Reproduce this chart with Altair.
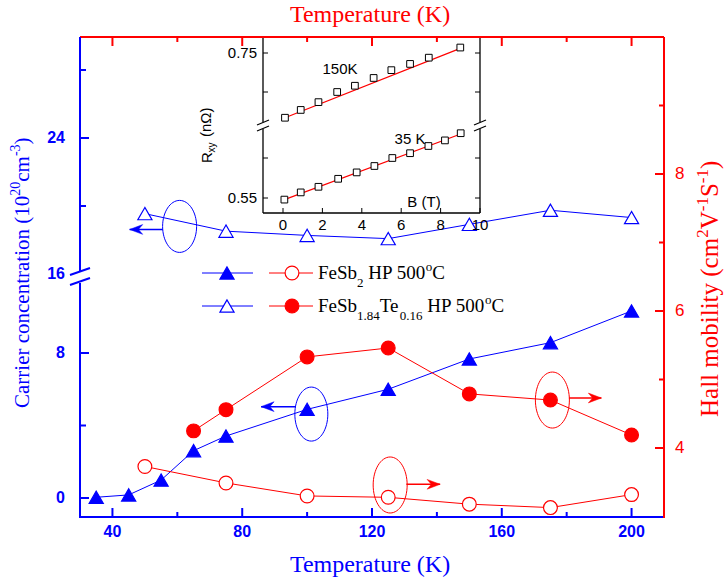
import altair as alt
import pandas as pd

BLUE = "#0000ff"
RED = "#ff0000"
SERIF = "Liberation Serif"
SANS = "Liberation Sans"
W, H = 584, 480

# ---------------- main data ----------------
T_fesb2 = [35, 45, 55, 65, 75, 100, 125, 150, 175, 200]
n_fesb2 = [0.04, 0.17, 0.99, 2.61, 3.42, 4.89, 6.0, 7.67, 8.57, 10.32]
T_te = [50, 75, 100, 125, 150, 175, 200]
n_te = [19.55, 18.52, 18.27, 18.08, 18.92, 19.75, 19.32]
T_mu_te = [65, 75, 100, 125, 150, 175, 200]
mu_te = [4.25, 4.56, 5.33, 5.46, 4.79, 4.70, 4.19]
T_mu_fesb2 = [50, 75, 100, 125, 150, 175, 200]
mu_fesb2 = [3.73, 3.49, 3.30, 3.28, 3.18, 3.13, 3.32]

# ---------------- inset data ----------------
B_150 = [0.1, 0.9, 1.8, 2.75, 3.65, 4.6, 5.5, 6.45, 7.4, 9.0]
R_150 = [0.667, 0.677, 0.687, 0.700, 0.708, 0.718, 0.728, 0.736, 0.744, 0.757]
B_35 = [0.07, 0.9, 1.8, 2.8, 3.74, 4.64, 5.55, 6.45, 7.38, 8.22, 9.02]
R_35 = [0.548, 0.557, 0.564, 0.574, 0.582, 0.590, 0.600, 0.606, 0.615, 0.622, 0.631]
fit150_B = [0.1, 9.0]
fit150_R = [0.667, 0.756]
fit35_B = [0.07, 9.02]
fit35_R = [0.548, 0.630]

# ---------------- axis ticks ----------------
x_major = [40, 80, 120, 160, 200]
x_minor = [60, 100, 140, 180]
x_labels = ["40", "80", "120", "160", "200"]
lo_major = [0, 8]
lo_minor = [4]
lo_labels = ["0", "8"]
hi_major = [16, 24]
hi_tick_major = [24]
hi_minor = [20, 28]
hi_labels = ["16", "24"]
mu_major = [4, 6, 8]
mu_minor = [5, 7, 9]
mu_labels = ["4", "6", "8"]
B_ticks = [0, 2, 4, 6, 8, 10]
B_labels = ["0", "2", "4", "6", "8", "10"]
Rhi_ticks = [0.70, 0.75]
Rlo_ticks = [0.55, 0.60]

# annotation ellipses / arrows (data coordinates)
ell_hi_T, ell_hi_v = [60.7], [18.8]
ell_lo_T, ell_lo_v = [101.3], [4.63]
ell_mu_T, ell_mu_v = [125.6, 175.6], [3.46, 4.70]
arr_hi = dict(x0=[55.5], x1=[45.3], y=[18.62])
arr_lo = dict(x0=[96.5], x1=[85.8], y=[5.04])
arr_mu = dict(x0=[130.6, 180.7], x1=[141.0, 190.7], y=[3.47, 4.73])

sx = alt.Scale(domain=[30, 210], range=[0, W], nice=False, zero=False)
s_lo = alt.Scale(domain=[0, 8], range=[461, 316], nice=False, zero=False)
s_hi = alt.Scale(domain=[16, 24], range=[237, 101], nice=False, zero=False)
s_mu = alt.Scale(domain=[4, 8], range=[411, 137], nice=False, zero=False)
s_bx = alt.Scale(domain=[0, 10], range=[203, 400], nice=False, zero=False)
s_rhi = alt.Scale(domain=[0.70, 0.75], range=[55, 16], nice=False, zero=False)
s_rlo = alt.Scale(domain=[0.55, 0.60], range=[161, 121], nice=False, zero=False)

one = pd.DataFrame({"k": [0]})
layers = []


def X(f, s):
    return alt.X(f, type="quantitative", scale=s, axis=None)


def Y(f, s):
    return alt.Y(f, type="quantitative", scale=s, axis=None)


def line(xv, yv, xs, ys, color, w=1):
    d = pd.DataFrame({"x": xv, "y": yv})
    return alt.Chart(d).mark_line(color=color, strokeWidth=w).encode(x=X("x", xs), y=Y("y", ys))


def pts(xv, yv, xs, ys, shape, size, fill, stroke, sw=1.2):
    d = pd.DataFrame({"x": xv, "y": yv})
    return alt.Chart(d).mark_point(shape=shape, size=size, filled=True, fill=fill, stroke=stroke,
                                   strokeWidth=sw, opacity=1).encode(x=X("x", xs), y=Y("y", ys))


def seg(x1, y1, x2, y2, color, w):
    return alt.Chart(one).mark_rule(color=color, strokeWidth=w).encode(
        x=alt.value(x1), y=alt.value(y1), x2=alt.value(x2), y2=alt.value(y2))


def vticks(vals, ys, x0, x1, color, w=2):
    d = pd.DataFrame({"v": vals})
    return alt.Chart(d).mark_rule(color=color, strokeWidth=w).encode(
        y=Y("v", ys), x=alt.value(x0), x2=alt.value(x1))


def hticks(vals, xs, y0, y1, color, w=2):
    d = pd.DataFrame({"v": vals})
    return alt.Chart(d).mark_rule(color=color, strokeWidth=w).encode(
        x=X("v", xs), y=alt.value(y0), y2=alt.value(y1))


def vlabels(vals, labs, ys, x, align, color, size, weight="normal"):
    d = pd.DataFrame({"v": vals, "t": labs})
    return alt.Chart(d).mark_text(align=align, baseline="middle", color=color, fontSize=size,
                                  fontWeight=weight, font=SANS).encode(
        y=Y("v", ys), x=alt.value(x), text="t:N")


def hlabels(vals, labs, xs, y, color, size, weight="normal"):
    d = pd.DataFrame({"v": vals, "t": labs})
    return alt.Chart(d).mark_text(align="center", baseline="middle", color=color, fontSize=size,
                                  fontWeight=weight, font=SANS).encode(
        x=X("v", xs), y=alt.value(y), text="t:N")


def txt(s, x, y, size, color="black", font=SERIF, align="left", baseline="alphabetic", angle=0,
        weight="normal"):
    props = dict(text=s, fontSize=size, color=color, font=font, align=align, baseline=baseline,
                 fontWeight=weight)
    if angle:
        props["angle"] = angle
    return alt.Chart(one).mark_text(**props).encode(x=alt.value(x), y=alt.value(y))


TW = {'C': .667, 'a': .444, 'r': .333, 'i': .278, 'e': .444, ' ': .25, 'c': .444, 'o': .5,
      'n': .5, 't': .278, '(': .333, ')': .333, 'm': .778, '-': .333, 'H': .722, 'l': .278,
      'b': .5, 'y': .5, 'V': .722, 'S': .556, 'F': .556, 'P': .556, 'T': .611, '.': .25,
      'K': .722, 'u': .5, 'p': .5}


def tw(s, size):
    return sum(TW.get(c, 0.5) for c in s) * size


def rich(pieces, x, y, size, small, color, angle=0):
    out = []
    pos = 0.0
    for s, kind in pieces:
        fs = size if kind == "n" else small
        off = 0.0 if kind == "n" else (0.42 * size if kind == "sub" else -0.42 * size)
        lead = len(s) - len(s.lstrip(" "))
        pos += lead * TW[" "] * fs
        s = s.lstrip(" ")
        if angle == 0:
            px, py = x + pos, y + off
        else:
            px, py = x + off, y - pos
        out.append(txt(s, px, py, fs, color, angle=angle))
        pos += tw(s, fs)
    return out


# ---------------- data series ----------------
layers.append(line(T_te, n_te, sx, s_hi, BLUE))
layers.append(line(T_fesb2, n_fesb2, sx, s_lo, BLUE))
layers.append(line(T_mu_te, mu_te, sx, s_mu, RED))
layers.append(line(T_mu_fesb2, mu_fesb2, sx, s_mu, RED))
layers.append(pts(T_te, n_te, sx, s_hi, "triangle-up", 200, "white", BLUE))
layers.append(pts(T_fesb2, n_fesb2, sx, s_lo, "triangle-up", 200, BLUE, BLUE))
layers.append(pts(T_mu_te, mu_te, sx, s_mu, "circle", 190, RED, RED))
layers.append(pts(T_mu_fesb2, mu_fesb2, sx, s_mu, "circle", 190, "white", RED))

# ---------------- annotations ----------------
def ellipse_path(w, h):
    a = w / h
    return f"M {-a},0 A {a},1 0 1,1 {a},0 A {a},1 0 1,1 {-a},0 Z"


def ell(Tv, vv, ys, color, w, h):
    d = pd.DataFrame({"x": Tv, "y": vv})
    return alt.Chart(d).mark_point(shape=ellipse_path(w, h), size=h * h, filled=False,
                                   stroke=color, strokeWidth=1, opacity=1).encode(
        x=X("x", sx), y=Y("y", ys))


ARROW_L = "M 0,0 L 2,-0.75 L 1.35,0 L 2,0.75 Z"
ARROW_R = "M 0,0 L -2,-0.75 L -1.35,0 L -2,0.75 Z"


def arrow(a, ys, color, head):
    d = pd.DataFrame(a)
    body = alt.Chart(d).mark_rule(color=color, strokeWidth=1.5).encode(
        x=X("x0", sx), x2=alt.X2("x1"), y=Y("y", ys))
    tip = alt.Chart(d).mark_point(shape=head, size=170, filled=True, fill=color, stroke=color,
                                  strokeWidth=0.5, opacity=1).encode(x=X("x1", sx), y=Y("y", ys))
    return [body, tip]


layers.append(ell(ell_hi_T, ell_hi_v, s_hi, BLUE, 34, 52))
layers.append(ell(ell_lo_T, ell_lo_v, s_lo, BLUE, 33, 54))
layers.append(ell(ell_mu_T, ell_mu_v, s_mu, RED, 34, 56))
layers += arrow(arr_hi, s_hi, BLUE, ARROW_L)
layers += arrow(arr_lo, s_lo, BLUE, ARROW_L)
layers += arrow(arr_mu, s_mu, RED, ARROW_R)

# ---------------- inset ----------------
layers.append(line(fit150_B, fit150_R, s_bx, s_rhi, RED, 1.2))
layers.append(line(fit35_B, fit35_R, s_bx, s_rlo, RED, 1.2))
layers.append(pts(B_150, R_150, s_bx, s_rhi, "square", 45, "white", "black", 1))
layers.append(pts(B_35, R_35, s_bx, s_rlo, "square", 45, "white", "black", 1))
IL, IR, IB = 183, 400, 176
layers.append(seg(IL, 0, IL, 85, "black", 1.3))
layers.append(seg(IL, 92, IL, IB, "black", 1.3))
layers.append(seg(IR, 0, IR, 85, "black", 1.3))
layers.append(seg(IR, 92, IR, IB, "black", 1.3))
layers.append(seg(IL, IB, IR, IB, "black", 1.3))
for bx in (IL, IR):
    layers.append(seg(bx - 6, 88, bx + 6, 83, "black", 1.2))
    layers.append(seg(bx - 6, 94, bx + 6, 89, "black", 1.2))
layers.append(hticks(B_ticks, s_bx, IB, IB - 5, "black", 1))
layers.append(vticks(Rhi_ticks, s_rhi, IL, IL + 5, "black", 1))
layers.append(vticks(Rlo_ticks, s_rlo, IL, IL + 5, "black", 1))
layers.append(vticks(Rhi_ticks, s_rhi, IR, IR - 5, "black", 1))
layers.append(vticks(Rlo_ticks, s_rlo, IR, IR - 5, "black", 1))
layers.append(hlabels(B_ticks, B_labels, s_bx, 188, "black", 15))
layers.append(vlabels([0.75], ["0.75"], s_rhi, 177, "right", "black", 15))
layers.append(vlabels([0.55], ["0.55"], s_rlo, 177, "right", "black", 15))
layers.append(txt("150K", 260, 32, 15, font=SANS, align="center", baseline="middle"))
layers.append(txt("35 K", 330, 102, 15, font=SANS, align="center", baseline="middle"))
layers.append(txt("B (T)", 344, 165, 15, font=SANS, align="center", baseline="middle"))
layers.append(txt("R", 127, 126, 15, font=SANS, angle=270, baseline="middle"))
layers.append(txt("xy", 132, 115.5, 10, font=SANS, angle=270, baseline="middle"))
layers.append(txt("(nΩ)", 126, 100, 15, font=SANS, angle=270, baseline="middle"))

# ---------------- legend ----------------
for ry, tri_fill, circ_fill in ((236, BLUE, "white"), (269, "white", RED)):
    layers.append(seg(122, ry, 173, ry, BLUE, 1))
    layers.append(seg(189, ry, 233, ry, RED, 1))
    layers.append(alt.Chart(one).mark_point(shape="triangle-up", size=200, filled=True, fill=tri_fill,
                                            stroke=BLUE, strokeWidth=1.2, opacity=1).encode(
        x=alt.value(147), y=alt.value(ry)))
    layers.append(alt.Chart(one).mark_point(shape="circle", size=190, filled=True, fill=circ_fill,
                                            stroke=RED, strokeWidth=1.2, opacity=1).encode(
        x=alt.value(212), y=alt.value(ry)))
layers += rich([("FeSb", "n"), ("2", "sub"), (" HP 500", "n"), ("o", "sup"), ("C", "n")],
               238, 242, 19, 13, "black")
layers += rich([("FeSb", "n"), ("1.84", "sub"), ("Te", "n"), ("0.16", "sub"), (" HP 500", "n"),
                ("o", "sup"), ("C", "n")], 238, 275, 19, 13, "black")

# ---------------- main axes ----------------
layers.append(seg(0, 480, W, 480, BLUE, 2))          # bottom
layers.append(seg(0, 0, W, 0, RED, 2))               # top
layers.append(seg(W, 0, W, 481, RED, 2))             # right
layers.append(seg(0, 0, 0, 234, BLUE, 2))            # left upper
layers.append(seg(0, 246, 0, 481, BLUE, 2))          # left lower
layers.append(seg(-10, 238, 10, 231, BLUE, 2))
layers.append(seg(-10, 248, 10, 241, BLUE, 2))
layers.append(hticks(x_major, sx, 480, 471, BLUE))
layers.append(hticks(x_minor, sx, 480, 475, BLUE))
layers.append(hticks(x_major, sx, 0, 9, RED))
layers.append(hticks(x_minor, sx, 0, 5, RED))
layers.append(hlabels(x_major, x_labels, sx, 495, BLUE, 16, "bold"))
layers.append(vticks(lo_major, s_lo, 0, 9, BLUE))
layers.append(vticks(lo_minor, s_lo, 0, 6, BLUE))
layers.append(vticks(hi_tick_major, s_hi, 0, 9, BLUE))
layers.append(vticks(hi_minor, s_hi, 0, 6, BLUE))
layers.append(vlabels(lo_major, lo_labels, s_lo, -15, "right", BLUE, 16, "bold"))
layers.append(vlabels(hi_major, hi_labels, s_hi, -15, "right", BLUE, 16, "bold"))
layers.append(vticks(mu_major, s_mu, W, W - 9, RED))
layers.append(vticks(mu_minor, s_mu, W, W - 5, RED))
layers.append(vlabels(mu_major, mu_labels, s_mu, 595, "left", RED, 17))

# titles
layers.append(txt("Temperature (K)", 290, -15, 24, RED, align="center"))
layers.append(txt("Temperature (K)", 290, 535, 24, BLUE, align="center"))
layers += rich([("Carrier concentration (10", "n"), ("20", "sup"), ("cm", "n"), ("-3", "sup"),
                (")", "n")], -51, 371, 21, 14, BLUE, angle=270)
layers += rich([("Hall mobility (cm", "n"), ("2", "sup"), ("V", "n"), ("-1", "sup"), ("S", "n"),
                ("-1", "sup"), (")", "n")], 638, 380, 25, 17, RED, angle=270)

chart = alt.layer(*layers).resolve_scale(x="independent", y="independent").properties(
    width=W, height=H,
    autosize=alt.AutoSizeParams(type="none"),
    padding={"left": 80, "top": 37, "right": 60, "bottom": 64},
    background="white",
).configure_view(stroke=None)

chart.save("out.html", embed_options={"renderer": "svg", "actions": False})
